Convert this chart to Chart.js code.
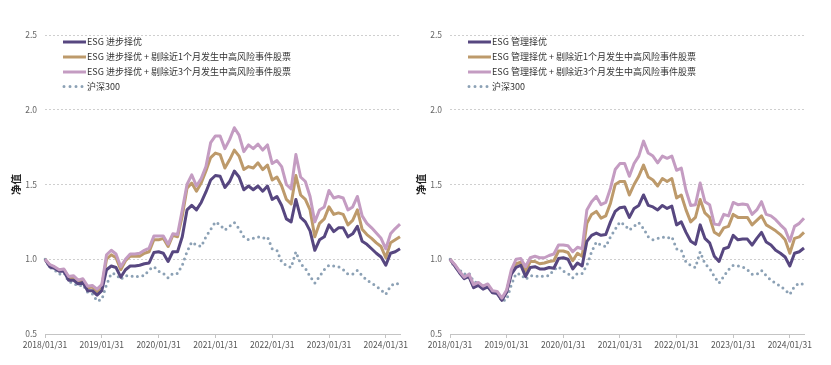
<!DOCTYPE html>
<html><head><meta charset="utf-8">
<script src="https://cdn.jsdelivr.net/npm/chart.js@4.4.1/dist/chart.umd.min.js"></script>
<style>
html,body{margin:0;padding:0;background:#fff;}
#wrap{position:relative;width:831px;height:365px;}
canvas{position:absolute;top:0;}
</style></head><body>
<div id="wrap">
<canvas id="c1" width="415" height="365" style="left:0"></canvas>
<canvas id="c2" width="416" height="365" style="left:415px"></canvas>
</div>
<script>
const dates = [
 "2018/01/31","2018/02/28","2018/03/31","2018/04/30","2018/05/31","2018/06/30","2018/07/31","2018/08/31","2018/09/30","2018/10/31","2018/11/30","2018/12/31",
 "2019/01/31","2019/02/28","2019/03/31","2019/04/30","2019/05/31","2019/06/30","2019/07/31","2019/08/31","2019/09/30","2019/10/31","2019/11/30","2019/12/31",
 "2020/01/31","2020/02/29","2020/03/31","2020/04/30","2020/05/31","2020/06/30","2020/07/31","2020/08/31","2020/09/30","2020/10/31","2020/11/30","2020/12/31",
 "2021/01/31","2021/02/28","2021/03/31","2021/04/30","2021/05/31","2021/06/30","2021/07/31","2021/08/31","2021/09/30","2021/10/31","2021/11/30","2021/12/31",
 "2022/01/31","2022/02/28","2022/03/31","2022/04/30","2022/05/31","2022/06/30","2022/07/31","2022/08/31","2022/09/30","2022/10/31","2022/11/30","2022/12/31",
 "2023/01/31","2023/02/28","2023/03/31","2023/04/30","2023/05/31","2023/06/30","2023/07/31","2023/08/31","2023/09/30","2023/10/31","2023/11/30","2023/12/31",
 "2024/01/31","2024/02/29","2024/03/31","2024/04/30"
];
const yTicks = [0.5, 1.0, 1.5, 2.0, 2.5];

const hs300 = [1.00,0.945,0.93,0.90,0.91,0.85,0.84,0.82,0.83,0.78,0.77,0.72,0.73,
 0.83,0.905,0.90,0.865,0.89,0.89,0.88,0.89,0.89,0.93,0.95,0.92,
 0.905,0.875,0.905,0.905,0.96,1.05,1.115,1.095,1.085,1.15,1.20,1.25,1.23,1.195,1.22,1.245,1.205,1.15,1.13,1.14,1.15,1.14,1.15,
 1.07,1.06,0.98,0.96,0.945,1.05,0.97,0.94,0.885,0.84,0.885,0.93,0.96,0.955,0.95,0.93,0.90,0.90,0.925,0.89,0.86,0.84,0.82,0.795,0.765,0.82,0.84,0.83];

// Left panel: ESG 进步择优
const progBase = [1.00,0.95,0.94,0.92,0.92,0.86,0.86,0.835,0.845,0.79,0.79,0.76,0.79,
 0.93,0.955,0.945,0.88,0.93,0.955,0.955,0.96,0.97,0.975,1.045,1.05,
 1.04,0.985,1.05,1.05,1.15,1.33,1.36,1.33,1.38,1.45,1.53,1.56,1.555,1.48,1.52,1.59,1.55,1.465,1.49,1.465,1.49,1.455,1.49,
 1.40,1.42,1.36,1.27,1.25,1.40,1.28,1.25,1.19,1.06,1.13,1.15,1.23,1.185,1.21,1.21,1.15,1.17,1.22,1.12,1.10,1.07,1.04,1.015,0.96,1.04,1.05,1.07];
const prog1m = [1.00,0.96,0.945,0.925,0.93,0.875,0.88,0.85,0.86,0.81,0.815,0.785,0.82,
 1.00,1.03,1.01,0.93,0.99,1.02,1.02,1.02,1.04,1.05,1.13,1.13,
 1.14,1.085,1.16,1.15,1.29,1.475,1.51,1.455,1.51,1.59,1.68,1.71,1.70,1.61,1.665,1.73,1.69,1.60,1.62,1.61,1.645,1.60,1.63,
 1.53,1.55,1.49,1.40,1.37,1.56,1.43,1.40,1.33,1.15,1.24,1.27,1.35,1.30,1.31,1.30,1.23,1.26,1.33,1.20,1.165,1.14,1.11,1.085,1.01,1.11,1.13,1.15];
const prog3m = [1.00,0.965,0.95,0.93,0.935,0.885,0.89,0.86,0.87,0.82,0.825,0.80,0.83,
 1.03,1.06,1.035,0.95,1.00,1.035,1.035,1.04,1.06,1.075,1.155,1.155,
 1.155,1.10,1.17,1.165,1.33,1.50,1.565,1.49,1.54,1.62,1.78,1.825,1.825,1.74,1.80,1.88,1.83,1.72,1.765,1.74,1.77,1.73,1.765,
 1.64,1.66,1.62,1.50,1.47,1.70,1.55,1.52,1.42,1.25,1.33,1.35,1.46,1.41,1.42,1.41,1.33,1.35,1.42,1.29,1.24,1.21,1.175,1.14,1.07,1.17,1.205,1.235];

// Right panel: ESG 管理择优
const mgmtBase = [1.00,0.955,0.91,0.87,0.885,0.81,0.825,0.80,0.815,0.775,0.77,0.725,0.78,
 0.90,0.945,0.96,0.885,0.945,0.95,0.935,0.935,0.945,0.94,1.005,1.01,
 1.00,0.935,0.975,0.955,1.12,1.16,1.175,1.16,1.165,1.25,1.32,1.345,1.35,1.28,1.34,1.36,1.43,1.36,1.35,1.33,1.36,1.34,1.355,
 1.23,1.25,1.18,1.12,1.10,1.23,1.14,1.11,1.02,0.985,1.07,1.08,1.16,1.13,1.135,1.135,1.095,1.14,1.18,1.115,1.095,1.06,1.04,1.015,0.955,1.04,1.05,1.075];
const mgmt1m = [1.00,0.96,0.915,0.875,0.89,0.815,0.83,0.805,0.82,0.78,0.775,0.73,0.785,
 0.91,0.97,0.98,0.92,0.985,0.985,0.97,0.975,0.985,0.99,1.055,1.055,
 1.045,0.99,1.04,1.02,1.24,1.30,1.32,1.275,1.29,1.375,1.50,1.52,1.52,1.43,1.50,1.555,1.63,1.55,1.53,1.49,1.54,1.52,1.54,
 1.41,1.43,1.33,1.25,1.28,1.40,1.31,1.28,1.18,1.16,1.21,1.22,1.30,1.28,1.28,1.28,1.23,1.26,1.29,1.23,1.21,1.19,1.165,1.13,1.04,1.14,1.15,1.18];
const mgmt3m = [1.00,0.965,0.92,0.88,0.90,0.83,0.845,0.82,0.835,0.79,0.785,0.74,0.795,
 0.93,1.00,1.005,0.95,1.01,1.02,1.01,1.01,1.025,1.035,1.095,1.095,
 1.09,1.05,1.08,1.07,1.33,1.385,1.42,1.365,1.38,1.475,1.60,1.64,1.64,1.555,1.64,1.69,1.79,1.71,1.69,1.645,1.69,1.675,1.69,
 1.595,1.61,1.46,1.36,1.365,1.51,1.385,1.365,1.235,1.23,1.30,1.29,1.38,1.365,1.37,1.365,1.30,1.33,1.385,1.30,1.29,1.265,1.23,1.20,1.12,1.22,1.24,1.275];

const leftNames = ["ESG 进步择优","ESG 进步择优 + 剔除近1个月发生中高风险事件股票","ESG 进步择优 + 剔除近3个月发生中高风险事件股票","沪深300"];
const rightNames = ["ESG 管理择优","ESG 管理择优 + 剔除近1个月发生中高风险事件股票","ESG 管理择优 + 剔除近3个月发生中高风险事件股票","沪深300"];

const FONT = '"Noto Sans CJK SC", "Noto Sans", sans-serif';
const PURPLE = '#574780', TAN = '#bd9a6b', PINK = '#c49cc2', DOT = '#8ca1b5';

const insideLegend = {
  id: 'insideLegend',
  afterDraw(chart) {
    const {ctx, chartArea} = chart;
    const x0 = chartArea.left + 18;
    const rows = [42, 57, 72, 86.5];
    ctx.save();
    chart.data.datasets.forEach((ds, i) => {
      const y = rows[i];
      ctx.beginPath();
      ctx.strokeStyle = ds.borderColor;
      ctx.lineWidth = ds.borderWidth;
      if (ds.borderDash && ds.borderDash.length) {
        ctx.setLineDash([0, 6]);
        ctx.lineCap = 'round';
        ctx.moveTo(x0 + 1, y); ctx.lineTo(x0 + 22, y);
      } else {
        ctx.setLineDash([]);
        ctx.lineCap = 'butt';
        ctx.moveTo(x0, y); ctx.lineTo(x0 + 23, y);
      }
      ctx.stroke();
      ctx.setLineDash([]);
      ctx.fillStyle = '#333';
      ctx.font = '9px ' + FONT;
      ctx.textBaseline = 'middle';
      ctx.textAlign = 'left';
      ctx.fillText(ds.label, x0 + 24, y);
    });
    ctx.restore();
  }
};

function makeChart(id, names, s0, s1, s2, pad) {
  const datasets = [
    {label: names[0], data: s0, borderColor: PURPLE, borderWidth: 3, order: 1},
    {label: names[1], data: s1, borderColor: TAN, borderWidth: 3, order: 1},
    {label: names[2], data: s2, borderColor: PINK, borderWidth: 3, order: 0},
    {label: names[3], data: hs300, borderColor: DOT, borderWidth: 3, borderDash: [0, 5.5], borderCapStyle: 'round', order: 2}
  ];
  datasets.forEach(d => { d.pointRadius = 0; d.tension = 0; d.fill = false; d.borderJoinStyle = 'round'; });
  return new Chart(document.getElementById(id), {
    type: 'line',
    data: {labels: dates, datasets},
    plugins: [insideLegend],
    options: {
      responsive: false,
      animation: false,
      layout: {padding: pad},
      plugins: {legend: {display: false}, tooltip: {enabled: false}},
      scales: {
        x: {
          type: 'category',
          offset: false,
          grid: {display: true, drawOnChartArea: false, drawTicks: true, tickLength: 4, color: '#c4c4c4'},
          border: {display: true, color: '#c4c4c4', width: 1},
          ticks: {autoSkip: false, maxRotation: 0, minRotation: 0, padding: 2, color: '#555', font: {size: 8.5, family: FONT}},
          afterBuildTicks: s => { s.ticks = s.ticks.filter(t => t.value % 12 === 0); },
          afterFit: s => { s.height = 31; }
        },
        y: {
          min: yTicks[0], max: yTicks[yTicks.length - 1],
          afterBuildTicks: s => { s.ticks = yTicks.map(v => ({value: v})); },
          ticks: {callback: v => Number(v).toFixed(1), padding: 8, color: '#666', font: {size: 8.5, family: FONT}},
          grid: {color: '#cfcfcf', drawTicks: false, lineWidth: 1},
          border: {display: false, dash: [2, 2]},
          title: {display: true, text: '净值', color: '#222', font: {size: 10.5, family: FONT, weight: 'bold'}, padding: {top: pad.titleTop, bottom: 0}},
          afterFit: s => { s.width = pad.yWidth; }
        }
      }
    }
  });
}

makeChart('c1', leftNames, progBase, prog1m, prog3m, {left: 6, right: 15, top: 35, bottom: 0, yWidth: 39, titleTop: 4});
makeChart('c2', rightNames, mgmtBase, mgmt1m, mgmt3m, {left: 0, right: 27, top: 35, bottom: 0, yWidth: 35, titleTop: 0});
</script>
</body></html>
